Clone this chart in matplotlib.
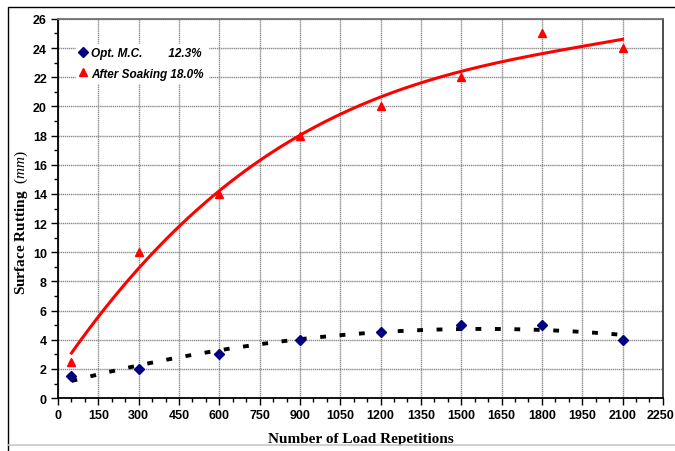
import numpy as np
import matplotlib
matplotlib.use('Agg')
import matplotlib.pyplot as plt
import matplotlib.transforms as mtransforms
from matplotlib.ticker import MultipleLocator
from matplotlib.lines import Line2D
from matplotlib.patches import Rectangle

# 荷载重复次数与表面车辙量 (mm)
load_reps = [50, 300, 600, 900, 1200, 1500, 1800, 2100]
rut_opt_mc = [1.5, 2, 3, 4, 4.5, 5, 5, 4]
rut_soaked = [2.5, 10, 14, 18, 20, 22, 25, 24]

x_ticks = list(range(0, 2251, 150))
y_ticks = list(range(0, 27, 2))

label_opt = 'Opt. M.C.        12.3%'
label_soak = 'After Soaking 18.0%'

plt.rcParams['mathtext.fontset'] = 'custom'
plt.rcParams['mathtext.it'] = 'Liberation Serif:italic'
plt.rcParams['mathtext.rm'] = 'Liberation Serif'

fig = plt.figure(figsize=(6.75, 4.52), dpi=100)
ax = fig.add_axes([0.086, 0.117, 0.896, 0.839])

# 外框
fig.patches.append(Rectangle((8 / 675, -0.02), 1.0, 1 - 8 / 452 + 0.02,
                             transform=fig.transFigure, fill=False,
                             edgecolor='black', linewidth=1.0))
fig.add_artist(Line2D([8 / 675, 1.0], [1 - 446 / 452] * 2,
                      transform=fig.transFigure, color='#c8c8c8', linewidth=1.2))

# 趋势线 (多项式拟合)
xs = np.linspace(load_reps[0], load_reps[-1], 200)
p_soak = np.polyfit(load_reps, rut_soaked, 3)
p_opt = np.polyfit(load_reps, rut_opt_mc, 2)
ax.plot(xs, np.polyval(p_soak, xs), color='#ff0000', linewidth=2.2, zorder=3)
ax.plot(xs, np.polyval(p_opt, xs), color='black', linewidth=2.8,
        linestyle=(0, (1.5, 3.5)), zorder=3)

ax.plot(load_reps, rut_opt_mc, linestyle='none', marker='D', markersize=5,
        color='#000080', zorder=4, label=label_opt)
ax.plot(load_reps, rut_soaked, linestyle='none', marker='^', markersize=6,
        color='#ff0000', zorder=4, label=label_soak)

ax.set_xlim(0, 2250)
ax.set_ylim(0, 26)
ax.set_xticks(x_ticks)
ax.set_yticks(y_ticks)
ax.xaxis.set_minor_locator(MultipleLocator(50))
ax.yaxis.set_minor_locator(MultipleLocator(1))
ax.tick_params(which='both', direction='out', color='black')
ax.tick_params(which='major', length=5, width=1, pad=3)
ax.tick_params(which='minor', length=3, width=1)
for lab in ax.get_xticklabels() + ax.get_yticklabels():
    lab.set_fontfamily('Liberation Sans')
    lab.set_fontweight('bold')
    lab.set_fontsize(9)
# 最后一个刻度标签稍微左移, 避免被裁掉
last = ax.get_xticklabels()[-1]
last.set_transform(last.get_transform() +
                   mtransforms.ScaledTranslation(-2 / 100, 0, fig.dpi_scale_trans))

ax.grid(True, which='major', color='#8c8c8c', linewidth=1.0, linestyle=(0, (1, 0.5)))
ax.set_axisbelow(True)

ax.spines['left'].set_color('black')
ax.spines['bottom'].set_color('black')
ax.spines['right'].set_color('#404040')
ax.spines['top'].set_color('#707070')
for s in ax.spines.values():
    s.set_linewidth(1.3)

ax.set_xlabel('Number of Load Repetitions', fontfamily='Liberation Serif',
              fontweight='bold', fontsize=11, labelpad=8)
ax.set_ylabel(r'Surface Rutting  $\mathit{(mm)}$', fontfamily='Liberation Serif',
              fontweight='bold', fontsize=11)
ax.yaxis.set_label_coords(-0.047, 0.466)

leg = ax.legend(loc='upper left', bbox_to_anchor=(0.02, 0.95), frameon=True,
                fancybox=False, edgecolor='white', facecolor='white', framealpha=1,
                handlelength=0.6, handletextpad=0.4, borderpad=0.3, labelspacing=0.7,
                prop={'family': 'Liberation Sans', 'style': 'italic',
                      'weight': 'bold', 'size': 8.5})

fig.savefig('out.png', dpi=100)
